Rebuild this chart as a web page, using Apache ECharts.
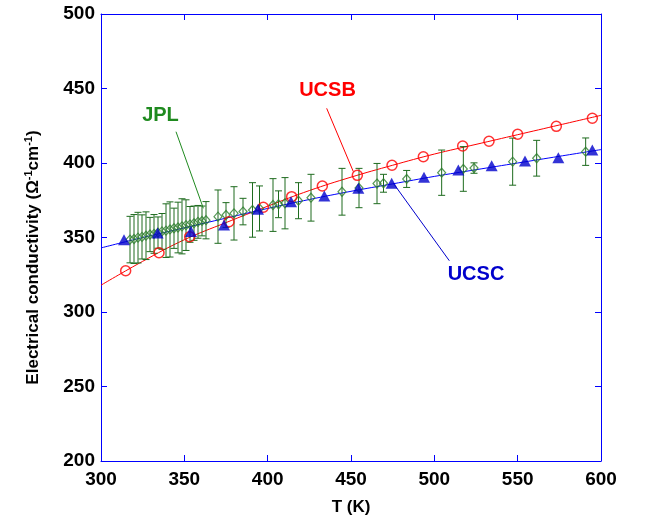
<!DOCTYPE html>
<html>
<head>
<meta charset="utf-8">
<script src="https://cdn.jsdelivr.net/npm/echarts@6/dist/echarts.min.js"></script>
<style>
html,body{margin:0;padding:0;background:#fff;}
#c{width:647px;height:526px;}
</style>
</head>
<body>
<div id="c"></div>
<script>
// ---- data ----
const xTicks = [300, 350, 400, 450, 500, 550, 600];
const yTicks = [200, 250, 300, 350, 400, 450, 500];

const ucsbT = [314.8, 334.8, 353.2, 376.8, 397.4, 414.4, 432.8, 453.8, 474.6, 493.4, 517.0, 532.8, 550.0, 573.2, 594.8];
const ucsbV = [327.7, 339.8, 350.5, 360.6, 370.3, 377.4, 384.6, 391.7, 398.5, 404.2, 411.4, 414.6, 419.3, 424.6, 430.0];

const ucscT = [313.8, 334.0, 354.0, 373.8, 394.2, 414.0, 434.0, 454.4, 474.4, 493.8, 514.4, 534.4, 554.4, 574.4, 594.8];
const ucscV = [348.5, 353.0, 354.0, 358.4, 369.0, 374.0, 377.9, 383.0, 386.4, 390.4, 395.3, 398.2, 401.3, 403.6, 408.7];

const fitT = [300, 325, 350, 375, 400, 425, 450, 475, 500, 525, 550, 575, 600];
const ucsbFitV = [318, 334, 348.5, 360, 371, 381.5, 390.5, 398.5, 406, 412.5, 419, 425.5, 432];
const ucscFitV = [343, 350, 356.5, 363, 369.5, 375.5, 381, 386, 391, 395.5, 400, 404.5, 409];

const jplT = [317.4, 319.8, 322.2, 324.6, 327.0, 329.4, 331.8, 334.2, 336.6, 339.0, 341.4, 343.8, 346.2, 348.6, 351.0, 353.4, 355.8, 358.2, 360.6, 363.0,
              370.2, 375.0, 379.8, 385.2, 390.9, 395.1, 403.2, 406.5, 410.4, 418.5, 426.0, 444.6, 454.8, 465.6, 469.5, 483.4, 504.4, 517.4, 523.8, 547.0, 561.4, 590.8];
const jplV = [348.6, 349.0, 349.9, 350.4, 351.2, 352.0, 352.4, 353.3, 354.1, 354.6, 355.4, 356.2, 356.7, 357.5, 358.3, 358.8, 359.6, 360.5, 361.1, 361.6,
              364.0, 365.1, 366.2, 367.4, 368.5, 369.5, 371.8, 372.3, 373.0, 374.7, 376.7, 380.7, 383.2, 386.2, 386.4, 389.3, 393.5, 396.0, 396.6, 400.9, 403.2, 407.6];
const jplErr = [15.6, 16.4, 17.0, 14.8, 16.0, 11.5, 13.0, 10.5, 12.0, 18.0, 18.5, 13.5, 17.0, 18.5, 17.0, 12.0, 11.5, 11.0, 10.0, 12.5,
                17.9, 8.3, 17.9, 8.9, 18.3, 15.1, 17.7, 9.0, 17.2, 12.1, 15.7, 15.7, 13.2, 13.5, 6.0, 5.7, 15.2, 15.0, 3.5, 15.8, 12.0, 9.2];

// annotations (data coordinates)
const labels = [
  {text: 'JPL',  color: '#1f8a1f', at: [335.7, 431.7], from: [345.0, 421.0], to: [361.4, 369.6]},
  {text: 'UCSB', color: '#ff0000', at: [435.9, 448.7], from: [435.4, 436.7], to: [451.4, 394.2]},
  {text: 'UCSC', color: '#0000cc', at: [525.0, 325.0], from: [509.0, 334.4], to: [475.4, 386.4]}
];

const zip = (a, b) => a.map((v, i) => [v, b[i]]);
const zip3 = (a, b, c) => a.map((v, i) => [v, b[i], c[i]]);

const AX = '#0000ff';
const FONT = '"Liberation Sans", Arial, sans-serif';

const chart = echarts.init(document.getElementById('c'), null, {renderer: 'canvas'});

const baseAxis = {
  type: 'value', splitLine: {show: false},
  axisLine: {show: true, onZero: false, lineStyle: {color: AX, width: 1}},
  axisTick: {show: true, inside: true, length: 6, lineStyle: {color: AX}},
  minorTick: {show: false}
};

chart.setOption({
  animation: false,
  backgroundColor: '#fff',
  grid: {left: 101, right: 46, top: 14, bottom: 65, containLabel: false},
  xAxis: [
    Object.assign({}, baseAxis, {
      min: xTicks[0], max: xTicks[xTicks.length - 1], interval: 50, position: 'bottom',
      axisLabel: {color: '#000', fontFamily: FONT, fontWeight: 'bold', fontSize: 19, margin: 9},
      name: 'T (K)', nameLocation: 'middle', nameGap: 38,
      nameTextStyle: {color: '#000', fontFamily: FONT, fontWeight: 'bold', fontSize: 17}
    }),
    Object.assign({}, baseAxis, {
      min: xTicks[0], max: xTicks[xTicks.length - 1], interval: 50, position: 'top',
      axisLabel: {show: false}
    })
  ],
  yAxis: [
    Object.assign({}, baseAxis, {
      min: yTicks[0], max: yTicks[yTicks.length - 1], interval: 50, position: 'left',
      axisLabel: {color: '#000', fontFamily: FONT, fontWeight: 'bold', fontSize: 19, margin: 6},
      name: 'Electrical conductivity (Ω{sup|-1}cm{sup|-1})', nameLocation: 'middle', nameGap: 58, nameRotate: 90,
      nameTextStyle: {
        color: '#000', fontFamily: FONT, fontWeight: 'bold', fontSize: 17, padding: [0, 40, 0, 0],
        rich: {sup: {fontFamily: FONT, fontWeight: 'bold', fontSize: 11, color: '#000', verticalAlign: 'top', padding: [0, 0, 9, 0]}}
      }
    }),
    Object.assign({}, baseAxis, {
      min: yTicks[0], max: yTicks[yTicks.length - 1], interval: 50, position: 'right',
      axisLabel: {show: false}
    })
  ],
  series: [
    {type: 'line', data: zip(fitT, ucsbFitV), smooth: 0.4, showSymbol: false, symbol: 'none',
     lineStyle: {color: '#ff0000', width: 1}, z: 2, silent: true},
    {type: 'line', data: zip(fitT, ucscFitV), smooth: 0.4, showSymbol: false, symbol: 'none',
     lineStyle: {color: '#0000ff', width: 1}, z: 2, silent: true},
    {type: 'custom', data: zip3(jplT, jplV, jplErr), z: 3,
     renderItem: function (params, api) {
       const x = api.value(0), y = api.value(1), e = api.value(2);
       const top = api.coord([x, y + e]), bot = api.coord([x, y - e]);
       const hw = 3.5;
       const st = {stroke: '#1e6b1e', lineWidth: 1};
       return {type: 'group', children: [
         {type: 'line', shape: {x1: top[0], y1: top[1], x2: bot[0], y2: bot[1]}, style: st},
         {type: 'line', shape: {x1: top[0] - hw, y1: top[1], x2: top[0] + hw, y2: top[1]}, style: st},
         {type: 'line', shape: {x1: bot[0] - hw, y1: bot[1], x2: bot[0] + hw, y2: bot[1]}, style: st}
       ]};
     }},
    {type: 'scatter', data: zip(jplT, jplV), symbol: 'diamond', symbolSize: [8, 9], z: 4,
     itemStyle: {color: 'rgba(255,255,255,0)', borderColor: '#2b7d2b', borderWidth: 1.2}},
    {type: 'scatter', data: zip(ucsbT, ucsbV), symbol: 'circle', symbolSize: 10, z: 5,
     itemStyle: {color: 'rgba(255,255,255,0)', borderColor: '#ff0000', borderWidth: 1.5}},
    {type: 'scatter', data: zip(ucscT, ucscV), symbol: 'triangle', symbolSize: [12, 11], z: 6,
     itemStyle: {color: '#0000cc', borderWidth: 0}}
  ]
});

// annotations placed through the chart's own coordinate conversion
const g = [];
labels.forEach(l => {
  const p = chart.convertToPixel({gridIndex: 0}, l.at);
  const a = chart.convertToPixel({gridIndex: 0}, l.from);
  const b = chart.convertToPixel({gridIndex: 0}, l.to);
  g.push({type: 'line', shape: {x1: a[0], y1: a[1], x2: b[0], y2: b[1]}, style: {stroke: l.color, lineWidth: 1}, z: 10});
  g.push({type: 'text', x: p[0], y: p[1], style: {text: l.text, fill: l.color, font: 'bold 20px ' + FONT, textAlign: 'center', textVerticalAlign: 'middle'}, z: 10});
});
chart.setOption({graphic: g});
</script>
</body>
</html>
